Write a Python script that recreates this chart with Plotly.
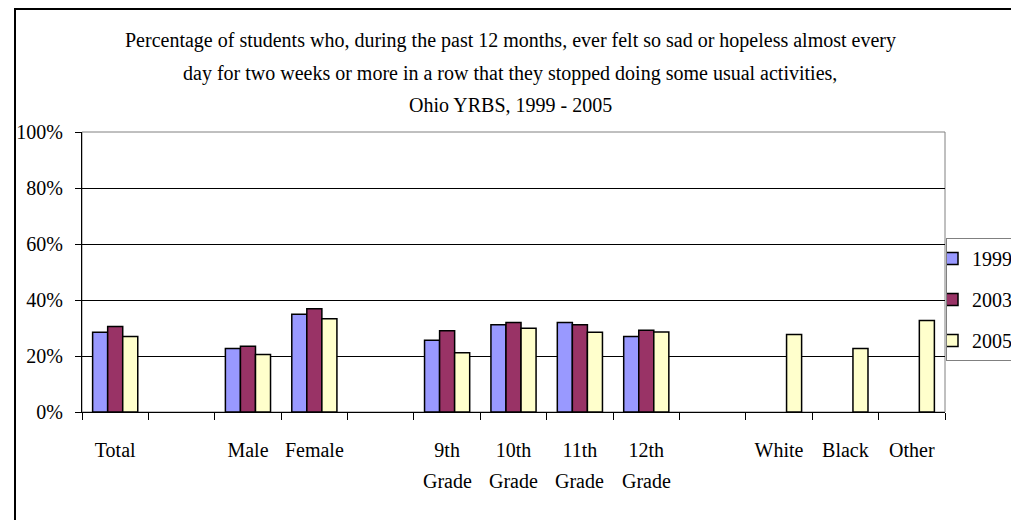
import plotly.graph_objects as go

categories = ["Total", " ", "Male", "Female", "  ", "9th Grade", "10th Grade",
              "11th Grade", "12th Grade", "   ", "White", "Black", "Other"]
tick_line1 = ["Total", "", "Male", "Female", "", "9th", "10th", "11th", "12th",
              "", "White", "Black", "Other"]
tick_line2 = ["", "", "", "", "", "Grade", "Grade", "Grade", "Grade", "", "", "", ""]

y1999 = [28.5, None, 22.7, 34.9, None, 25.6, 31.2, 32.0, 27.0, None, None, None, None]
y2003 = [30.5, None, 23.5, 36.9, None, 29.0, 32.0, 31.2, 29.2, None, None, None, None]
y2005 = [27.0, None, 20.5, 33.3, None, 21.2, 29.9, 28.5, 28.6, None, 27.7, 22.7, 32.7]

series = [("1999", y1999, "#9999FF"), ("2003", y2003, "#993366"), ("2005", y2005, "#FFFFCC")]

title_lines = [
    "Percentage of students who, during the past 12 months, ever felt so sad or hopeless almost every",
    "day for two weeks or more in a row that they stopped doing some usual activities,",
    "Ohio YRBS, 1999 - 2005",
]

FONT = "Liberation Serif"
FS = 20
fig = go.Figure()
for name, vals, col in series:
    fig.add_trace(go.Bar(
        x=categories, y=vals, name=name, legendgroup=name,
        marker=dict(color=col, line=dict(color="black", width=1.5)),
    ))

OFF = 8  # page body margin
W, H = 1019 - OFF, 520 - OFF
L, R, T, B = 82 - OFF, 74, 132 - OFF, 108
pw, ph = W - L - R, H - T - B

def px_x(x):
    return (x - OFF - L) / pw

def px_y(y):
    return (OFF + H - B - y) / ph

annotations = []
for i, line in enumerate(title_lines):
    annotations.append(dict(
        text=line, xref="paper", yref="paper", x=px_x(510), y=px_y([40, 73, 105][i]),
        xanchor="center", yanchor="middle", showarrow=False,
        font=dict(family=FONT, size=FS, color="black"),
    ))
for c, t in zip(categories, tick_line2):
    if t:
        annotations.append(dict(
            text=t, xref="x", yref="paper", x=c, y=px_y(481),
            xanchor="center", yanchor="middle", showarrow=False,
            font=dict(family=FONT, size=FS, color="black"),
        ))

fig.update_layout(
    width=W, height=H,
    margin=dict(l=L, r=R, t=T, b=B, autoexpand=False),
    paper_bgcolor="white", plot_bgcolor="white",
    barmode="group", bargap=0.32, bargroupgap=0,
    font=dict(family=FONT, size=FS, color="black"),
    annotations=annotations,
    showlegend=True,
    legend=dict(
        x=px_x(946), y=px_y(238), xanchor="left", yanchor="top",
        bordercolor="#808080", borderwidth=1, bgcolor="white",
        font=dict(family=FONT, size=FS, color="black"),
        tracegroupgap=12, itemwidth=30, indentation=-15,
    ),
    shapes=[
        dict(type="rect", xref="paper", yref="paper",
             x0=px_x(15), y0=px_y(560), x1=px_x(1060), y1=px_y(9),
             line=dict(color="black", width=2), layer="below"),
        dict(type="rect", xref="paper", yref="paper", x0=0, y0=0, x1=1, y1=1,
             line=dict(color="#808080", width=1), layer="below"),
    ],
)
fig.update_xaxes(
    type="category", categoryorder="array", categoryarray=categories,
    tickmode="array", tickvals=categories, ticktext=tick_line1,
    tickson="boundaries", ticks="outside", ticklen=7, tickcolor="black",
    showline=True, linecolor="black", linewidth=1, showgrid=False,
    tickfont=dict(family=FONT, size=FS, color="black"),
    tickangle=0, ticklabelstandoff=20,
    range=[-0.5, len(categories) - 0.5],
)
fig.update_yaxes(
    range=[0, 100], dtick=20, ticksuffix="%",
    ticks="outside", ticklen=6, tickcolor="black",
    showline=True, linecolor="black", linewidth=1,
    showgrid=True, gridcolor="black", gridwidth=1,
    zeroline=False,
    tickfont=dict(family=FONT, size=FS, color="black"),
    ticklabelstandoff=8,
)

fig.write_html("out.html")
